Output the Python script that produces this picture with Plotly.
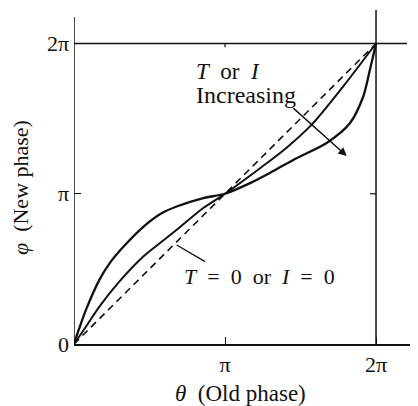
import plotly.graph_objects as go

# Values in units of pi
theta_diag = [0, 2]
phi_diag = [0, 2]

theta_mid = [0, 0.079, 0.168, 0.30, 0.459, 0.58, 0.68, 0.856, 1.0,
             1.232, 1.40, 1.574, 1.783, 2.0]
phi_mid = [0, 0.115, 0.249, 0.415, 0.582, 0.68, 0.76, 0.905, 1.0,
           1.17, 1.30, 1.46, 1.715, 2.0]

theta_out = [0, 0.035, 0.079, 0.168, 0.238, 0.33, 0.459, 0.58, 0.68, 0.856, 1.0,
             1.166, 1.30, 1.47, 1.673, 1.828, 1.916, 1.96, 2.0]
phi_out = [0, 0.105, 0.227, 0.427, 0.54, 0.65, 0.78, 0.87, 0.915, 0.971, 1.0,
           1.071, 1.14, 1.235, 1.338, 1.471, 1.649, 1.827, 2.0]

x_tickvals = [1, 2]
x_ticktext = ["π", "2π"]
y_tickvals = [0, 1, 2]
y_ticktext = ["0", "π", "2π"]

FONT = "Liberation Serif"
INK = "#111111"
NB = "\u00a0"

fig = go.Figure()
fig.add_trace(go.Scatter(x=theta_diag, y=phi_diag, mode="lines",
                         line=dict(color=INK, width=1.6, dash="7px,5px")))
fig.add_trace(go.Scatter(x=theta_mid, y=phi_mid, mode="lines", line_shape="spline",
                         line=dict(color=INK, width=2, smoothing=0.8)))
fig.add_trace(go.Scatter(x=theta_out, y=phi_out, mode="lines", line_shape="spline",
                         line=dict(color=INK, width=2.3, smoothing=0.8)))

# frame lines
fig.add_shape(type="line", x0=0, x1=2.205, y0=2, y1=2, line=dict(color=INK, width=1.5))
fig.add_shape(type="line", x0=2, x1=2, y0=0, y1=2.223, line=dict(color=INK, width=1.5))
fig.add_shape(type="line", x0=0, x1=0, y0=0, y1=2.176, line=dict(color=INK, width=1.5))
# small ticks on the 2pi lines
fig.add_shape(type="line", x0=1, x1=1, y0=2, y1=1.975, line=dict(color=INK, width=1.2))
fig.add_shape(type="line", x0=2, x1=1.96, y0=1, y1=1, line=dict(color=INK, width=1.2))

# arrow "Increasing"
fig.add_annotation(x=1.806, y=1.251, ax=1.442, ay=1.579, xref="x", yref="y",
                   axref="x", ayref="y", showarrow=True, arrowhead=2, arrowsize=1.2,
                   arrowwidth=1.4, arrowcolor=INK, text="")
fig.add_annotation(x=0.795, y=1.814, xref="x", yref="y", xanchor="left", yanchor="middle",
                   showarrow=False,
                   text=f"<i>T</i>{NB} or{NB} <i>I</i>",
                   font=dict(family=FONT, size=23, color=INK))
fig.add_annotation(x=0.795, y=1.655, xref="x", yref="y", xanchor="left", yanchor="middle",
                   showarrow=False, text="Increasing",
                   font=dict(family=FONT, size=24, color=INK))
# pointer line for T=0
fig.add_shape(type="line", x0=0.68, y0=0.659, x1=0.868, y1=0.548,
              line=dict(color=INK, width=1.3))
fig.add_annotation(x=0.715, y=0.45, xref="x", yref="y", xanchor="left", yanchor="middle",
                   showarrow=False,
                   text=f"<i>T</i>{NB} ={NB} 0{NB} or{NB} <i>I</i>{NB} ={NB} 0",
                   font=dict(family=FONT, size=22, color=INK))

# axis titles
fig.add_annotation(x=0.4826, y=-0.147, xref="paper", yref="paper", xanchor="center",
                   yanchor="middle", showarrow=False,
                   text=f"<i>θ</i>{NB} (Old phase)",
                   font=dict(family=FONT, size=23, color=INK))
fig.add_annotation(x=-0.157, y=0.47, xref="paper", yref="paper", xanchor="center",
                   yanchor="middle", showarrow=False, textangle=-90,
                   text=f"<i>φ</i>{NB} (New phase)",
                   font=dict(family=FONT, size=22, color=INK))

# page body has an 8px margin, so the figure is 8px smaller and margins shifted
fig.update_layout(
    width=410, height=398,
    margin=dict(l=66, r=0, t=2, b=62),
    paper_bgcolor="white", plot_bgcolor="white",
    showlegend=False,
    font=dict(family=FONT, size=22, color=INK),
    xaxis=dict(range=[0, 2.278], tickvals=x_tickvals, ticktext=x_ticktext,
               ticks="inside", ticklen=7, tickcolor=INK, showgrid=False, zeroline=False,
               showline=True, linecolor=INK, linewidth=1.5, automargin=False,
               tickfont=dict(family=FONT, size=22, color=INK)),
    yaxis=dict(range=[0, 2.223], tickvals=y_tickvals, ticktext=y_ticktext,
               ticks="inside", ticklen=7, tickcolor=INK, showgrid=False, zeroline=False,
               showline=False, automargin=False, ticklabelstandoff=4,
               tickfont=dict(family=FONT, size=22, color=INK)),
)

fig.write_html("out.html")
